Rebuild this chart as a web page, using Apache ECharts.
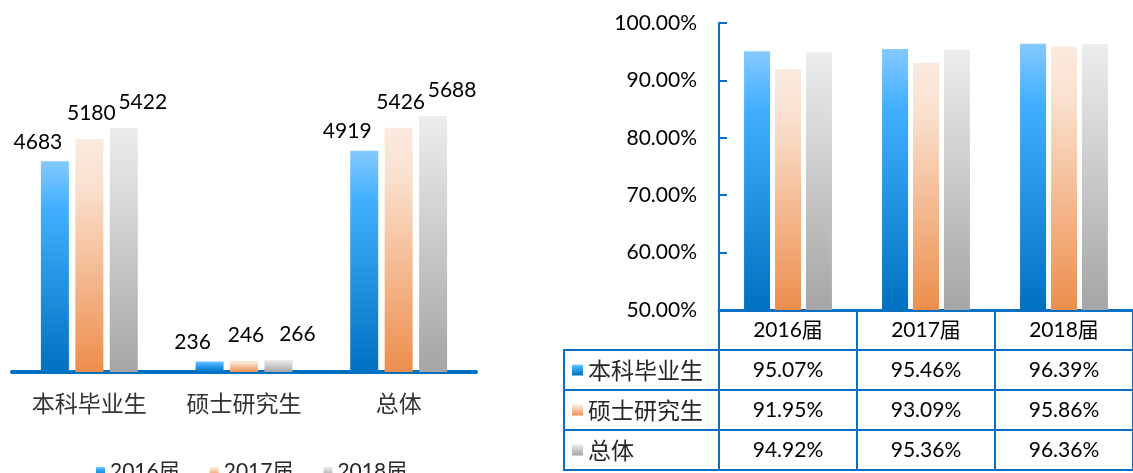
<!DOCTYPE html>
<html>
<head>
<meta charset="utf-8">
<script src="https://cdn.jsdelivr.net/npm/echarts@6/dist/echarts.min.js"></script>
<style>
html,body{margin:0;padding:0;background:#fff;}
#c{width:1133px;height:473px;}
</style>
</head>
<body>
<div id="c"></div>
<script>
// ---- Left chart data ----
const groupsLeft = ['本科毕业生', '硕士研究生', '总体'];
const yearNamesLeft = ['2016届', '2017届', '2018届'];
const count2016 = [4683, 236, 4919];
const count2017 = [5180, 246, 5426];
const count2018 = [5422, 266, 5688];

// ---- Right chart data ----
const yearsRight = ['2016届', '2017届', '2018届'];
const seriesNamesRight = ['本科毕业生', '硕士研究生', '总体'];
const rateBachelor = [95.07, 95.46, 96.39];
const rateMaster = [91.95, 93.09, 95.86];
const rateTotal = [94.92, 95.36, 96.36];
const rateAxis = { min: 50, max: 100, interval: 10 };

const FONT = 'Lato, "Noto Sans CJK SC", sans-serif';
const CJK = '"Noto Sans CJK SC", sans-serif';
const LINE = '#0b6fc2';
const NUM_SIZE = 21;

function grad(stops) {
  return new echarts.graphic.LinearGradient(0, 0, 0, 1, stops.map((c) => ({ offset: c[0], color: c[1] })));
}
const blue = () => grad([[0, '#85c9ff'], [0.22, '#42b0ff'], [1, '#0070c0']]);
const orange = () => grad([[0, '#fbeadf'], [0.2, '#fae1cf'], [1, '#ed8e4c']]);
const gray = () => grad([[0, '#ededed'], [1, '#a5a5a5']]);
const fills = [blue, orange, gray];

const leftValues = [count2016, count2017, count2018];
const labelCfg = [
  { distance: 9, offset: [-17, 0] },
  { distance: 15, offset: [2, 0] },
  { distance: 15, offset: [19, 0] }
];

const rightValues = [rateBachelor, rateMaster, rateTotal];

const chart = echarts.init(document.getElementById('c'), null, { renderer: 'canvas' });

const tableRowAxes = rightValues.map((row, r) => ({
  type: 'category',
  gridIndex: 1,
  position: 'bottom',
  offset: 40 * (r + 1),
  data: yearsRight,
  axisLine: { show: true, onZero: false, lineStyle: { color: LINE, width: 2 } },
  axisTick: { show: true, length: 40, interval: 0, lineStyle: { color: LINE, width: 2 } },
  axisLabel: {
    interval: 0, margin: 10, fontSize: NUM_SIZE, color: '#000', fontFamily: FONT,
    formatter: (v, i) => row[i].toFixed(2) + '%'
  }
}));

const option = {
  animation: false,
  textStyle: { fontFamily: FONT },
  grid: [
    { left: 12, width: 464, top: 102, height: 270 },
    { left: 719, width: 424, top: 23, height: 287 },
    { left: 564, width: 155, top: 350, height: 120, show: true, borderColor: LINE, borderWidth: 2, backgroundColor: 'transparent' }
  ],
  legend: [
    {
      data: yearNamesLeft,
      orient: 'horizontal',
      left: 91, top: 456,
      itemWidth: 9, itemHeight: 9, itemGap: 30,
      icon: 'rect',
      textStyle: { fontSize: NUM_SIZE, color: '#262626', fontFamily: FONT }
    },
    {
      data: seriesNamesRight,
      orient: 'vertical',
      left: 572, top: 351, padding: 0,
      height: 122,
      itemWidth: 11, itemHeight: 11, itemGap: 2,
      icon: 'rect',
      textStyle: { fontSize: 23, lineHeight: 38, color: '#262626', fontFamily: CJK }
    }
  ],
  xAxis: [
    {
      type: 'category', gridIndex: 0, data: groupsLeft,
      axisLine: { lineStyle: { color: '#0070c0', width: 4 } },
      axisTick: { show: false },
      axisLabel: { fontSize: 23, color: '#333', margin: 20, fontFamily: CJK }
    },
    {
      type: 'category', gridIndex: 1, data: yearsRight, position: 'bottom',
      axisLine: { show: true, onZero: false, lineStyle: { color: LINE, width: 3 } },
      axisTick: { show: true, length: 39, interval: 0, lineStyle: { color: LINE, width: 2 } },
      axisLabel: { interval: 0, margin: 10, fontSize: NUM_SIZE, color: '#000', fontFamily: FONT }
    },
    ...tableRowAxes,
    {
      type: 'category', gridIndex: 1, data: yearsRight, position: 'bottom', offset: 160,
      axisLine: { show: true, onZero: false, lineStyle: { color: LINE, width: 2 } },
      axisTick: { show: false }, axisLabel: { show: false }
    },
    { type: 'value', gridIndex: 2, show: false }
  ],
  yAxis: [
    { type: 'value', gridIndex: 0, min: 0, max: 6000, show: false },
    {
      type: 'value', gridIndex: 1, min: rateAxis.min, max: rateAxis.max, interval: rateAxis.interval,
      axisLine: { show: true, lineStyle: { color: LINE, width: 2 } },
      axisTick: { show: true, inside: true, length: 8, lineStyle: { color: LINE, width: 2 } },
      splitLine: { show: false },
      axisLabel: { fontSize: NUM_SIZE, color: '#000', margin: 22, fontFamily: FONT, formatter: v => v.toFixed(2) + '%' }
    },
    {
      type: 'category', gridIndex: 2, data: seriesNamesRight, inverse: true,
      axisLine: { show: false }, axisTick: { show: false }, axisLabel: { show: false },
      splitLine: { show: true, lineStyle: { color: LINE, width: 2 } }
    }
  ],
  series: [
    ...leftValues.map((vals, i) => ({
      name: yearNamesLeft[i], type: 'bar', xAxisIndex: 0, yAxisIndex: 0,
      data: vals, barWidth: 28, barGap: '23%',
      itemStyle: { color: fills[i]() },
      label: {
        show: true, position: 'top', distance: labelCfg[i].distance, offset: labelCfg[i].offset,
        fontSize: NUM_SIZE, color: '#000', fontFamily: FONT
      }
    })),
    ...rightValues.map((vals, i) => ({
      name: seriesNamesRight[i], type: 'bar', xAxisIndex: 1, yAxisIndex: 1,
      data: vals, barWidth: 26, barGap: '19%',
      itemStyle: { color: fills[i]() }
    }))
  ]
};
chart.setOption(option);
</script>
</body>
</html>
